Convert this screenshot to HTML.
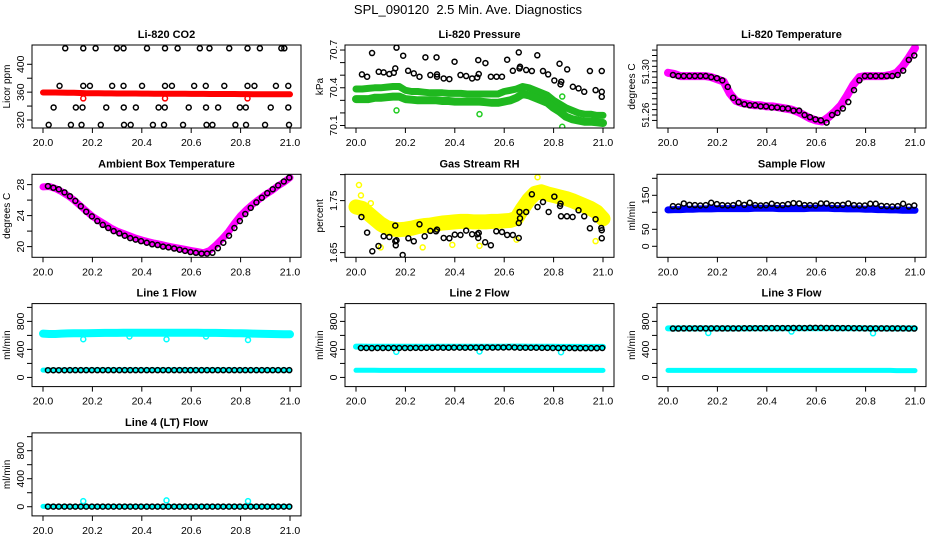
<!DOCTYPE html>
<html><head><meta charset="utf-8">
<style>
html,body{margin:0;padding:0;background:#fff;}
svg{display:block;font-family:"Liberation Sans",Arial,sans-serif;}
</style></head>
<body>
<svg id="chart" width="936" height="540" viewBox="0 0 936 540" xmlns="http://www.w3.org/2000/svg">
<rect width="936" height="540" fill="#fff"/>
<text x="468" y="14" text-anchor="middle" font-size="13">SPL_090120&#160;&#160;2.5 Min. Ave. Diagnostics</text>
</svg>
<script>
const bandT = [20,20.025,20.05,20.075,20.1,20.125,20.15,20.175,20.2,20.225,20.25,20.275,20.3,20.325,20.35,20.375,20.4,20.425,20.45,20.475,20.5,20.525,20.55,20.575,20.6,20.625,20.65,20.675,20.7,20.725,20.75,20.775,20.8,20.825,20.85,20.875,20.9,20.925,20.95,20.975,21];
const ptT = [20.020,20.042,20.064,20.087,20.109,20.131,20.153,20.175,20.198,20.220,20.242,20.264,20.286,20.309,20.331,20.353,20.375,20.397,20.420,20.442,20.464,20.486,20.508,20.531,20.553,20.575,20.597,20.619,20.642,20.664,20.686,20.708,20.730,20.753,20.775,20.797,20.819,20.841,20.864,20.886,20.908,20.930,20.952,20.975,20.997];
const xTicks = [20.0,20.2,20.4,20.6,20.8,21.0];
const xTickLabels = ["20.0","20.2","20.4","20.6","20.8","21.0"];

const co2BlackT = [20.09,20.163,20.213,20.299,20.326,20.421,20.494,20.545,20.635,20.674,20.754,20.828,20.878,20.965,20.977,20.067,20.163,20.19,20.28,20.326,20.401,20.494,20.522,20.612,20.659,20.734,20.828,20.856,20.943,20.993,20.043,20.133,20.16,20.256,20.327,20.376,20.468,20.493,20.59,20.66,20.709,20.797,20.821,20.922,20.993,20.023,20.113,20.156,20.234,20.328,20.355,20.445,20.49,20.567,20.662,20.686,20.779,20.822,20.899,20.996];
const co2BlackV = [423,423,423,423,423,423,423,423,423,423,423,423,423,423,423,369,369,369,369,369,369,369,369,369,369,369,369,369,369,369,338,338,338,338,338,338,338,338,338,338,338,338,338,338,338,313,313,313,313,313,313,313,313,313,313,313,313,313,313,313];
const co2Red = [359.5,359.5,359.5,359.3,359.2,359,358.8,358.5,358.4,358.3,358.2,358.2,358.1,358,358,358,357.9,357.9,357.8,357.8,357.7,357.7,357.6,357.6,357.5,357.5,357.5,357.4,357.4,357.3,357.3,357.3,357.2,357.2,357.1,357.1,357,357,357,357,356.9];
const co2RedOutT = [20.163,20.494,20.828];
const co2RedOutV = [351,351,351];

const presBlackT = [20.024,20.045,20.065,20.092,20.112,20.135,20.153,20.159,20.164,20.191,20.211,20.234,20.257,20.281,20.301,20.326,20.328,20.328,20.355,20.378,20.399,20.423,20.446,20.470,20.491,20.495,20.497,20.524,20.546,20.569,20.591,20.612,20.635,20.659,20.662,20.664,20.689,20.712,20.734,20.757,20.778,20.803,20.824,20.831,20.828,20.855,20.878,20.901,20.924,20.947,20.970,20.995,20.995,20.995];
const presBlackV = [70.506,70.488,70.676,70.527,70.522,70.509,70.519,70.554,70.719,70.655,70.535,70.514,70.488,70.642,70.501,70.642,70.506,70.488,70.474,70.469,70.607,70.501,70.493,70.474,70.482,70.620,70.509,70.596,70.488,70.488,70.488,70.623,70.535,70.681,70.554,70.567,70.541,70.533,70.658,70.533,70.506,70.458,70.591,70.448,70.427,70.546,70.408,70.395,70.368,70.533,70.381,70.533,70.368,70.328];
const presGreenUpper = [70.39,70.39,70.395,70.40,70.40,70.405,70.41,70.41,70.38,70.37,70.37,70.365,70.36,70.36,70.36,70.355,70.355,70.355,70.35,70.35,70.35,70.35,70.35,70.35,70.37,70.38,70.39,70.41,70.40,70.38,70.36,70.34,70.30,70.27,70.24,70.22,70.20,70.19,70.19,70.18,70.18];
const presGreenLower = [70.31,70.31,70.31,70.32,70.32,70.325,70.33,70.33,70.31,70.305,70.30,70.30,70.30,70.30,70.295,70.295,70.29,70.29,70.29,70.29,70.29,70.285,70.28,70.28,70.29,70.30,70.32,70.35,70.34,70.32,70.30,70.28,70.24,70.21,70.17,70.15,70.14,70.13,70.13,70.125,70.12];
const presGreenOutT = [20.164,20.5,20.835,20.835];
const presGreenOutV = [70.22,70.19,70.09,70.33];

const tempMagenta = [51.299,51.298,51.296,51.296,51.296,51.296,51.296,51.295,51.293,51.291,51.280,51.273,51.271,51.270,51.269,51.269,51.268,51.268,51.267,51.266,51.265,51.263,51.260,51.257,51.255,51.254,51.258,51.263,51.269,51.278,51.288,51.295,51.296,51.296,51.296,51.296,51.297,51.299,51.305,51.313,51.322];
const tempBlack = [51.297,51.296,51.296,51.296,51.296,51.296,51.296,51.295,51.294,51.292,51.286,51.276,51.272,51.270,51.269,51.269,51.268,51.268,51.267,51.267,51.266,51.266,51.264,51.264,51.260,51.258,51.256,51.255,51.253,51.260,51.262,51.266,51.272,51.283,51.292,51.296,51.296,51.296,51.296,51.296,51.296,51.297,51.301,51.311,51.315];

const ambMagenta = [27.7,27.75,27.5,27.1,26.6,26.0,25.3,24.6,23.9,23.4,22.9,22.4,22.0,21.7,21.4,21.1,20.85,20.65,20.45,20.3,20.1,19.95,19.8,19.65,19.5,19.35,19.2,19.5,20.2,21.0,21.9,23.0,24.0,24.8,25.5,26.1,26.7,27.2,27.8,28.3,28.9];
const ambBlack = [27.8,27.6,27.4,27.0,26.5,25.9,25.2,24.5,23.9,23.3,22.8,22.4,22.0,21.7,21.4,21.1,20.9,20.7,20.5,20.3,20.2,20.0,19.9,19.75,19.6,19.45,19.3,19.2,19.1,19.1,19.2,19.8,20.5,21.4,22.4,23.3,24.2,25.0,25.7,26.3,26.9,27.4,27.9,28.4,28.9];

const rhYellow = [1.738,1.735,1.725,1.715,1.705,1.698,1.695,1.694,1.695,1.697,1.700,1.702,1.703,1.705,1.707,1.708,1.709,1.710,1.710,1.709,1.709,1.709,1.710,1.710,1.711,1.712,1.716,1.735,1.752,1.764,1.767,1.763,1.760,1.757,1.754,1.750,1.745,1.740,1.735,1.728,1.715];
const rhYellowOutT = [20.012,20.02,20.06,20.1,20.27,20.39,20.5,20.65,20.735,20.97];
const rhYellowOutV = [1.78,1.76,1.745,1.660,1.660,1.665,1.663,1.675,1.795,1.672];
const rhBlackT = [20.022,20.045,20.066,20.091,20.112,20.135,20.159,20.159,20.161,20.164,20.189,20.212,20.234,20.257,20.278,20.301,20.324,20.328,20.355,20.378,20.4,20.423,20.446,20.47,20.491,20.495,20.497,20.523,20.546,20.568,20.591,20.612,20.635,20.659,20.659,20.662,20.664,20.689,20.712,20.735,20.757,20.780,20.803,20.826,20.828,20.830,20.854,20.877,20.901,20.924,20.947,20.970,20.993,20.995,20.995];
const rhBlackV = [1.7186,1.6885,1.6526,1.6628,1.6814,1.6801,1.7019,1.6718,1.6641,1.6737,1.6455,1.6776,1.6718,1.7045,1.6814,1.6917,1.6910,1.6942,1.6782,1.6776,1.6846,1.6840,1.6923,1.6853,1.6853,1.6782,1.6878,1.6699,1.6641,1.6910,1.6897,1.6840,1.6840,1.6782,1.7070,1.7282,1.7160,1.7282,1.7622,1.7378,1.7474,1.7282,1.7577,1.7397,1.7442,1.7199,1.7199,1.7186,1.7314,1.7199,1.6968,1.7141,1.6974,1.6930,1.6776];

const sfBlue = [107,108,108,109,109,110,110,110,111,111,111,111,111,111,112,112,112,112,111,111,111,111,111,112,112,112,112,111,111,110,110,110,109,109,108,108,107,107,106,106,106];
const sfBlack = [118,117,126,122,121,120,121,128,124,121,120,121,127,122,128,121,120,121,125,121,121,124,127,126,121,121,120,126,126,121,121,122,126,121,120,120,125,125,119,118,117,118,125,117,120];

const l1CyanHigh = [625,620,620,625,628,630,630,632,633,634,635,636,636,637,637,638,638,638,638,638,638,638,638,638,637,637,636,636,635,634,633,632,630,628,626,624,622,620,618,616,615];
const l1CyanLow = [105,105,105,106,106,106,106,107,107,107,107,107,107,107,107,107,107,107,107,107,107,107,107,107,107,107,107,107,107,107,107,106,106,106,106,106,106,106,105,105,105];
const l1Black = [103,103,103,103,104,104,104,104,104,104,104,104,104,104,104,104,104,104,104,104,104,104,104,104,104,104,104,104,104,104,104,104,104,104,104,104,104,104,104,104,104,104,104,104,104];
const l1OutT = [20.163,20.35,20.5,20.66,20.83];
const l1OutV = [545,585,545,585,535];

const l2CyanHigh = [440,440,438,438,438,438,438,438,438,438,438,438,438,438,438,438,438,438,438,438,438,438,438,438,438,440,440,440,438,438,438,438,438,436,436,436,436,436,436,436,436];
const l2CyanLow = [102,102,102,102,101,101,101,101,101,101,101,101,101,101,101,101,101,101,101,101,101,101,101,101,101,101,101,101,101,101,101,101,101,101,101,101,101,101,101,101,101];
const l2Black = [420,420,418,420,420,420,420,420,420,420,422,420,422,422,426,424,424,426,426,424,426,426,428,428,426,428,428,430,428,424,424,424,424,422,422,420,420,420,420,418,418,418,418,418,420];
const l2OutT = [20.163,20.5,20.83];
const l2OutV = [365,370,360];

const l3CyanHigh = [700,700,700,700,700,700,700,700,700,700,700,700,700,700,702,702,702,702,702,702,702,702,702,702,702,702,704,704,702,702,702,702,700,700,700,700,700,700,700,700,700];
const l3CyanLow = [100,100,100,100,100,100,100,100,100,100,100,100,100,100,100,100,100,100,100,100,100,100,100,100,100,100,100,100,100,100,100,100,100,100,100,100,100,98,98,98,98];
const l3Black = [698,698,700,700,700,700,700,700,700,700,700,700,700,702,702,702,702,704,704,704,704,704,706,706,704,708,708,708,706,706,704,704,704,702,702,700,700,700,700,700,700,700,700,698,698];
const l3OutT = [20.163,20.5,20.83];
const l3OutV = [635,655,630];

const l4Cyan = [5,5,3,3,3,3,3,3,3,3,3,3,3,3,3,3,3,3,3,3,3,3,3,3,3,3,3,3,3,3,3,3,3,3,3,3,3,3,3,3,3];
const l4Black = [2,2,2,2,2,2,2,2,2,2,2,2,2,2,2,2,2,2,2,2,2,2,2,2,2,2,2,2,2,2,2,2,2,2,2,2,2,2,2,2,2,2,2,2,2];
const l4OutT = [20.163,20.5,20.83];
const l4OutV = [80,90,80];

const SVGNS = "http://www.w3.org/2000/svg";
const svg = document.getElementById('chart');
const colLeft = [32, 345, 657];
const rowTop = [45, 174.3, 303.6, 432.9];
const PW = 269, PH = 83;

function mk(tag, attrs, parent) {
  const e = document.createElementNS(SVGNS, tag);
  for (const k in attrs) e.setAttribute(k, attrs[k]);
  parent.appendChild(e);
  return e;
}

function makePanel(key, col, row, title, ylab, ymin, ymax, yTicks, yLabels, yFont) {
  const L = colLeft[col], T = rowTop[row];
  const g = mk('g', {}, svg);
  
  
  const xs = v => L + 11 + (v - 20) * (PW - 22);
  const ys = v => T + PH - ((v - ymin) / (ymax - ymin)) * PH;
  const clipId = 'clip-' + key;
  const cp = mk('clipPath', { id: clipId }, g);
  mk('rect', { x: L, y: T, width: PW, height: PH }, cp);
  const plot = mk('g', { 'clip-path': 'url(#' + clipId + ')' }, g);
  
  
  const tt = mk('text', { x: L + PW / 2, y: T - 7, 'text-anchor': 'middle', 'font-size': 11, 'font-weight': 'bold' }, g);
  tt.textContent = title;
  
  
  xTicks.forEach((v, i) => {
    const x = xs(v);
    mk('line', { x1: x, y1: T + PH, x2: x, y2: T + PH + 5, stroke: '#000', 'stroke-width': 1 }, g);
    const t = mk('text', { x: x, y: T + PH + 18, 'text-anchor': 'middle', 'font-size': 10.5 }, g);
    t.textContent = xTickLabels[i];
    
    
  });
  yTicks.forEach((v, i) => {
    const y = ys(v);
    mk('line', { x1: L, y1: y, x2: L - 5, y2: y, stroke: '#000', 'stroke-width': 1 }, g);
    if (yLabels[i] !== '') {
      const t = mk('text', { x: 0, y: 0, 'text-anchor': 'middle', 'font-size': yFont || 10.5, transform: 'translate(' + (L - 8) + ',' + y + ') rotate(-90)' }, g);
      t.textContent = yLabels[i];
      
      
    }
  });
  const yl = mk('text', { x: 0, y: 0, 'text-anchor': 'middle', 'font-size': 10, transform: 'translate(' + (L - 22) + ',' + (T + PH / 2) + ') rotate(-90)' }, g);
  yl.textContent = ylab;
  
  
  const box = mk('rect', { x: L, y: T, width: PW, height: PH, fill: 'none', stroke: '#000', 'stroke-width': 1 }, g);
  
  
  return { plot, xs, ys, key };
}

function band(p, tArr, vArr, color, width, name) {
  const pts = tArr.map((t, i) => p.xs(t).toFixed(1) + ',' + p.ys(vArr[i]).toFixed(1)).join(' ');
  const pl = mk('polyline', { points: pts, fill: 'none', stroke: color, 'stroke-width': width, 'stroke-linejoin': 'round', 'stroke-linecap': 'round' }, p.plot);
  
  
}
function points(p, tArr, vArr, color, name, r, sw) {
  const g = mk('g', {}, p.plot);
  
  
  tArr.forEach((t, i) => {
    const c = mk('circle', { cx: p.xs(t), cy: p.ys(vArr[i]), r: r || 2.5, fill: 'none', stroke: color, 'stroke-width': sw || 1.5 }, g);
    
    
  });
}

let p = makePanel('co2', 0, 0, 'Li-820 CO2', 'Licor ppm', 308.5, 427.7, [320,340,360,380,400], ['320','','360','','400']);
band(p, bandT, co2Red, '#ff0000', 6, 'red-band');
points(p, co2RedOutT, co2RedOutV, '#ff0000', 'red-outliers');
points(p, co2BlackT, co2BlackV, '#000', 'black-points');

p = makePanel('pressure', 1, 0, 'Li-820 Pressure', 'kPa', 70.08, 70.74, [70.1,70.2,70.3,70.4,70.5,70.6,70.7], ['70.1','','','70.4','','','70.7']);
band(p, bandT, presGreenUpper, '#1fb81f', 7, 'green-upper-band');
band(p, bandT, presGreenLower, '#1fb81f', 8, 'green-lower-band');
points(p, presGreenOutT, presGreenOutV, '#22cc22', 'green-outliers');
points(p, presBlackT, presBlackV, '#000', 'black-points');

p = makePanel('licor-temp', 2, 0, 'Li-820 Temperature', 'degrees C', 51.248, 51.3247, [51.255,51.26,51.265,51.27,51.275,51.28,51.285,51.29,51.295,51.30,51.305,51.31,51.315,51.32], ['','51.26','','','','','','','','51.30','','','',''], 10);
band(p, bandT, tempMagenta, '#ff00ff', 8, 'magenta-band');
points(p, ptT, tempBlack, '#000', 'black-points');

p = makePanel('ambient-temp', 0, 1, 'Ambient Box Temperature', 'degrees C', 18.62, 29.33, [20,22,24,26,28], ['20','','24','','28']);
band(p, bandT, ambMagenta, '#ff00ff', 7, 'magenta-band');
points(p, ptT, ambBlack, '#000', 'black-points');

p = makePanel('gas-rh', 1, 1, 'Gas Stream RH', 'percent', 1.641, 1.8006, [1.65,1.70,1.75,1.80], ['1.65','','1.75','']);
band(p, bandT, rhYellow, '#ffff00', 15, 'yellow-band');
points(p, rhYellowOutT, rhYellowOutV, '#ffff00', 'yellow-outliers');
points(p, rhBlackT, rhBlackV, '#000', 'black-points');

p = makePanel('sample-flow', 2, 1, 'Sample Flow', 'ml/min', -32.4, 211.8, [0,50,100,150,200], ['0','50','','150','']);
band(p, bandT, sfBlue, '#0000ff', 7, 'blue-band');
points(p, ptT, sfBlack, '#000', 'black-points');

const flowTicks = [0,200,400,600,800,1000];
const flowLabels = ['0','','400','','800',''];
p = makePanel('line1-flow', 0, 2, 'Line 1 Flow', 'ml/min', -131, 1054, flowTicks, flowLabels);
band(p, bandT, l1CyanHigh, '#00ffff', 8, 'cyan-high-band');
band(p, bandT, l1CyanLow, '#00ffff', 5, 'cyan-low-band');
points(p, l1OutT, l1OutV, '#00ffff', 'cyan-outliers');
points(p, ptT, l1Black, '#000', 'black-points');

p = makePanel('line2-flow', 1, 2, 'Line 2 Flow', 'ml/min', -131, 1054, flowTicks, flowLabels);
band(p, bandT, l2CyanHigh, '#00ffff', 6, 'cyan-high-band');
band(p, bandT, l2CyanLow, '#00ffff', 5, 'cyan-low-band');
points(p, l2OutT, l2OutV, '#00ffff', 'cyan-outliers');
points(p, ptT, l2Black, '#000', 'black-points');

p = makePanel('line3-flow', 2, 2, 'Line 3 Flow', 'ml/min', -131, 1054, flowTicks, flowLabels);
band(p, bandT, l3CyanHigh, '#00ffff', 6, 'cyan-high-band');
band(p, bandT, l3CyanLow, '#00ffff', 5, 'cyan-low-band');
points(p, l3OutT, l3OutV, '#00ffff', 'cyan-outliers');
points(p, ptT, l3Black, '#000', 'black-points');

p = makePanel('line4-flow', 0, 3, 'Line 4 (LT) Flow', 'ml/min', -131, 1054, flowTicks, flowLabels);
band(p, bandT, l4Cyan, '#00ffff', 5, 'cyan-band');
points(p, l4OutT, l4OutV, '#00ffff', 'cyan-outliers');
points(p, ptT, l4Black, '#000', 'black-points');
</script>
</body></html>
